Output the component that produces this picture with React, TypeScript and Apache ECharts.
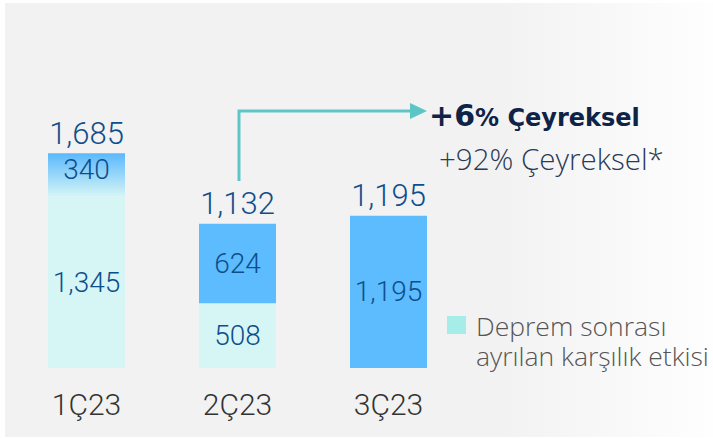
import React, { useEffect, useRef } from "react";
import * as echarts from "echarts";

const categories = ["1Ç23", "2Ç23", "3Ç23"];
const baseValues: (number | null)[] = [1345, 508, null];
const provisionValues = [340, 624, 1195];
const totalValues = [1685, 1132, 1195];
const headlineMain = "+6";
const headlineRest = "% Çeyreksel";
const subline = "+92% Çeyreksel*";
const legendLines = ["Deprem sonrası", "ayrılan karşılık etkisi"];

const fmt = (v: number) => v.toLocaleString("en-US");
const FONT = "Roboto";
const LABEL_COLOR = "#0f4e8c";

export default function App() {
  const ref = useRef<HTMLDivElement>(null);
  useEffect(() => {
    if (!ref.current) return;
    const chart = echarts.init(ref.current, undefined, { renderer: "svg" });
    const blueData = provisionValues.map((v, i) =>
      i === 0
        ? {
            value: v,
            label: { offset: [0, -5] },
            itemStyle: {
              color: new echarts.graphic.LinearGradient(0, 0, 0, 1, [
                { offset: 0, color: "#5ab8fd" },
                { offset: 1, color: "#d4f5f6" },
              ]),
            },
          }
        : v
    );
    chart.setOption({
      animation: false,
      backgroundColor: "#ffffff",
      textStyle: { fontFamily: FONT },
      grid: { left: 11, right: 249, top: 113, bottom: 70 },
      xAxis: {
        type: "category",
        data: categories,
        axisLine: { show: false },
        axisTick: { show: false },
        axisLabel: {
          fontSize: 30,
          fontWeight: 300,
          color: "#333333",
          fontFamily: FONT,
          margin: 21,
        },
      },
      yAxis: {
        type: "value",
        min: 0,
        max: 2000,
        show: false,
        splitLine: { show: false },
      },
      graphic: [
        {
          type: "rect",
          z: -10,
          silent: true,
          shape: { x: 5, y: 3, width: 708, height: 434 },
          style: {
            fill: new echarts.graphic.LinearGradient(0, 0, 1, 0, [
              { offset: 0, color: "#f2f2f2" },
              { offset: 0.7, color: "#f2f2f2" },
              { offset: 1, color: "#fefefe" },
            ]),
          },
        },
        {
          type: "polyline",
          shape: { points: [[239, 181], [239, 111], [412, 111]] },
          style: { stroke: "#5ec5c7", lineWidth: 3, fill: null },
        },
        {
          type: "polygon",
          shape: { points: [[410, 103], [427, 111], [410, 119]] },
          style: { fill: "#5ec5c7" },
        },
        {
          type: "text",
          x: 429,
          y: 100,
          style: {
            text: `{a|${headlineMain}}{b|${headlineRest}}`,
            rich: {
              a: {
                fontSize: 30,
                fontWeight: "bold",
                fontFamily: "DejaVu Sans",
                fill: "#0f2346",
                verticalAlign: "bottom",
              },
              b: {
                fontSize: 24,
                fontWeight: "bold",
                fontFamily: "DejaVu Sans",
                fill: "#0f2346",
                verticalAlign: "bottom",
              },
            },
          },
        },
        {
          type: "text",
          x: 439,
          y: 143,
          style: {
            text: subline,
            fontSize: 29.5,
            fontWeight: 300,
            fontFamily: "Open Sans",
            fill: "#2b3a55",
          },
        },
        {
          type: "rect",
          shape: { x: 447, y: 316, width: 19, height: 18 },
          style: { fill: "#a6ece9" },
        },
        {
          type: "text",
          x: 476,
          y: 312,
          style: {
            text: legendLines[0],
            fontSize: 26.5,
            lineHeight: 28,
            fontWeight: 300,
            fontFamily: "Open Sans",
            fill: "#555555",
          },
        },
        {
          type: "text",
          x: 476,
          y: 342,
          style: {
            text: legendLines[1],
            fontSize: 26.5,
            lineHeight: 28,
            fontWeight: 300,
            fontFamily: "Open Sans",
            fill: "#555555",
          },
        },
      ],
      series: [
        {
          type: "bar",
          stack: "q",
          data: baseValues,
          barWidth: 77,
          itemStyle: { color: "#d6f6f6" },
          label: {
            show: true,
            position: "inside",
            fontSize: 28,
            fontWeight: 300,
            fontFamily: FONT,
            color: LABEL_COLOR,
            formatter: (p: any) => fmt(p.value),
          },
        },
        {
          type: "bar",
          stack: "q",
          data: blueData,
          barWidth: 77,
          itemStyle: { color: "#5cbcfe" },
          label: {
            show: true,
            position: "inside",
            fontSize: 28,
            fontWeight: 300,
            fontFamily: FONT,
            color: LABEL_COLOR,
            formatter: (p: any) => fmt(p.value),
          },
        },
        {
          type: "line",
          data: totalValues,
          symbol: "circle",
          symbolSize: 1,
          showSymbol: true,
          itemStyle: { color: "rgba(0,0,0,0)" },
          lineStyle: { width: 0, opacity: 0 },
          silent: true,
          label: {
            show: true,
            position: "top",
            distance: 4,
            fontSize: 31,
            fontWeight: 300,
            fontFamily: FONT,
            color: LABEL_COLOR,
            formatter: (p: any) => fmt(p.value),
          },
        },
      ],
    });
    return () => chart.dispose();
  }, []);
  return (
    <div
      ref={ref}
      style={{ position: "absolute", left: 0, top: 0, width: 713, height: 438 }}
    />
  );
}
